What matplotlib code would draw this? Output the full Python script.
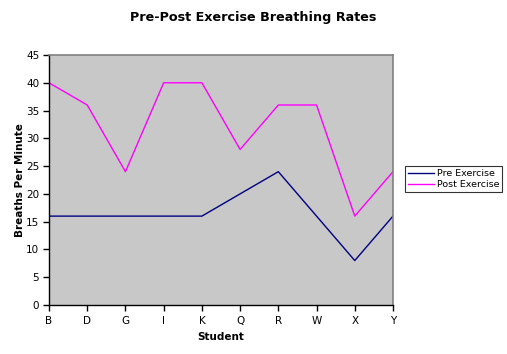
import matplotlib
matplotlib.use("Agg")
import matplotlib.pyplot as plt

students = ["B", "D", "G", "I", "K", "Q", "R", "W", "X", "Y"]
pre_exercise = [16, 16, 16, 16, 16, 20, 24, 16, 8, 16]
post_exercise = [40, 36, 24, 40, 40, 28, 36, 36, 16, 24]
y_ticks = [0, 5, 10, 15, 20, 25, 30, 35, 40, 45]

fig = plt.figure(figsize=(5.07, 3.54), dpi=100)
ax = fig.add_axes([49/507, 1-305/354, (393-49)/507, (305-55)/354])
ax.set_facecolor("#c8c8c8")

x = list(range(len(students)))
l1, = ax.plot(x, pre_exercise, color="#000080", lw=1.0, label="Pre Exercise")
l2, = ax.plot(x, post_exercise, color="#ff00ff", lw=1.0, label="Post Exercise")

ax.set_xlim(0, len(students) - 1)
ax.set_ylim(0, 45)
ax.set_xticks(x)
ax.set_xticklabels(students)
ax.set_yticks(y_ticks)
ax.tick_params(direction="out", length=4, width=1, labelsize=7.5, colors="black", pad=3)
ax.tick_params(axis="x", pad=4)

for s in ["top", "right"]:
    ax.spines[s].set_color("#808080")
    ax.spines[s].set_linewidth(1.2)
for s in ["left", "bottom"]:
    ax.spines[s].set_color("black")
    ax.spines[s].set_linewidth(1.0)

ax.set_xlabel("Student", fontsize=7.5, fontweight="bold", labelpad=4)
ax.set_ylabel("Breaths Per Minute", fontsize=7.5, fontweight="bold", labelpad=0.5)
fig.text(253/507, 1-18/354, "Pre-Post Exercise Breathing Rates", ha="center", va="center",
         fontsize=9.2, fontweight="bold")

leg = fig.legend(handles=[l1, l2], loc="center", bbox_to_anchor=(453.5/507, 1-179/354),
                 fontsize=6.8, frameon=True, fancybox=False, edgecolor="black",
                 handlelength=2.8, borderpad=0.3, labelspacing=0.2, handletextpad=0.3)
leg.get_frame().set_linewidth(0.8)

fig.savefig("out.png", dpi=100)
